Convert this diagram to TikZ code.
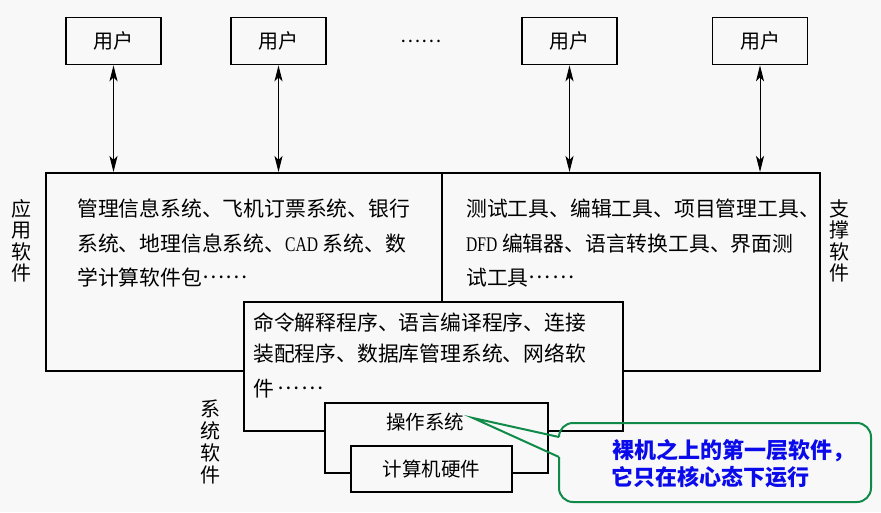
\documentclass[tikz,border=0pt]{standalone}
\usepackage{fontspec}
\setmainfont{Noto Sans CJK SC}
\newfontfamily\latinfont[FakeStretch=0.75]{Liberation Serif}
\usetikzlibrary{arrows.meta}
\definecolor{paper}{RGB}{248,248,248}
\definecolor{notegreen}{RGB}{16,138,72}
\definecolor{noteblue}{RGB}{10,10,235}
\newcommand{\bodysize}{\fontsize{20.8}{24}\selectfont}
\newcommand{\smallbody}{\fontsize{19.5}{22}\selectfont}
% vertically centred ellipsis, as in Chinese typesetting
\newcommand{\midellipsis}{\raisebox{0.3em}{…\kern0.08em…}}
\begin{document}
\begin{tikzpicture}[x=1pt,y=-1pt,
  frame/.style={draw=black,line width=1.6pt,fill=paper,inner sep=0pt},
  userbox/.style={frame,minimum width=95pt,minimum height=47pt,font=\fontsize{20}{24}\selectfont},
  link/.style={line width=1pt,{Stealth[length=16pt,width=8pt,inset=4pt]}-{Stealth[length=16pt,width=8pt,inset=4pt]}},
  txtline/.style={anchor=base west,inner sep=0pt,font=\bodysize},
  side/.style={align=center,inner sep=0pt,font=\fontsize{20}{21.5}\selectfont},
  note/.style={draw=notegreen,line width=2pt},
  notetext/.style={anchor=base west,inner sep=0pt,text=noteblue,font=\fontsize{22}{24}\selectfont\bfseries},
]
% page
\fill[paper] (0,0) rectangle (881,512);
\useasboundingbox (0,0) rectangle (881,512);

% users
\node[userbox] (u1) at (113.5,41) {用户};
\node[userbox] (u2) at (278.5,41) {用户};
\node[font=\fontsize{19}{24}\selectfont,inner sep=0pt] (more) at (421,41) {……};
\node[userbox] (u3) at (569.5,41) {用户};
\node[userbox] (u4) at (760,41) {用户};

% application / support software
\node[frame,anchor=north west,minimum width=774pt,minimum height=198pt] (main) at (45,172) {};
\draw[line width=1.6pt] (442,172) -- (442,301);

\foreach \u in {u1,u2,u3,u4}
  \draw[link] (\u.south) -- (\u.south |- main.north);

\node[txtline] (a1) at (77,216) {管理信息系统、飞机订票系统、银行};
\node[txtline] (a2) at (77,251) {系统、地理信息系统、{\latinfont CAD} 系统、数};
\node[txtline] (a3) at (77,285) {学计算软件包\midellipsis};

\node[txtline] (s1) at (466,216) {测试工具、编辑工具、项目管理工具、};
\node[txtline] (s2) at (466,251) {{\latinfont DFD} 编辑器、语言转换工具、界面测};
\node[txtline] (s3) at (466,285) {试工具\midellipsis};

\node[side] (lapp) at (22,241) {应\\用\\软\\件};
\node[side] (lsup) at (839,241) {支\\撑\\软\\件};

% system software
\node[frame,anchor=north west,minimum width=379pt,minimum height=129pt] (mid) at (243,301) {};
\node[txtline] (m1) at (253,330) {命令解释程序、语言编译程序、连接};
\node[txtline] (m2) at (253,361) {装配程序、数据库管理系统、网络软};
\node[txtline] (m3) at (253,396) {件\,\midellipsis};
\node[side,font=\fontsize{20}{22}\selectfont] (lsys) at (210,442) {系\\统\\软\\件};

% operating system and hardware
\node[frame,anchor=north west,minimum width=223pt,minimum height=70pt] (os) at (324,402) {};
\node[font=\smallbody,inner sep=0pt] (oslabel) at (425,422) {操作系统};
\node[frame,minimum width=161pt,minimum height=46pt,font=\smallbody] (hw) at (431.5,469) {计算机硬件};

% callout
\coordinate (tip) at (473,418);
\coordinate (pa) at (559,437);
\coordinate (pb) at (559,457);
\draw[note,rounded corners=14pt] (pb) -- (559,502) -- (871,502) -- (871,423) -- (559,423) -- (pa);
\draw[note,line join=miter] (pa) -- (tip) -- (pb);
\node[notetext] (n1) at (612,458) {裸机之上的第一层软件，};
\node[notetext] (n2) at (611,485) {它只在核心态下运行};
\end{tikzpicture}
\end{document}
